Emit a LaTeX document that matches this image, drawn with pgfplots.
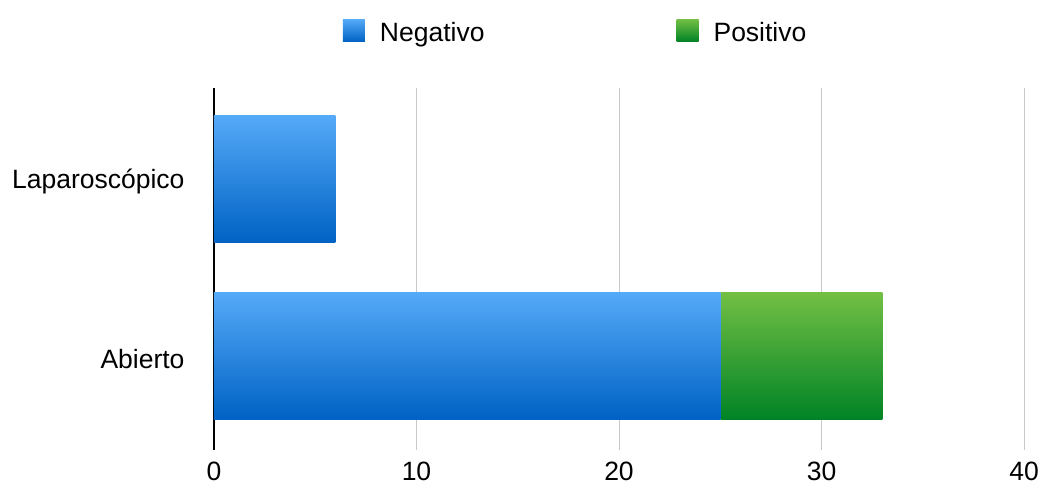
\documentclass[border=0pt]{standalone}
\usepackage{fontspec}
\setmainfont{Liberation Sans}
\usepackage{pgfplots}
\pgfplotsset{compat=1.18}
\usetikzlibrary{calc}
\definecolor{bluetop}{HTML}{55AAF8}
\definecolor{bluebot}{HTML}{0062C4}
\definecolor{greentop}{HTML}{72BF44}
\definecolor{greenbot}{HTML}{008326}
\definecolor{gridgray}{HTML}{C8C8C8}
\begin{document}
\begin{tikzpicture}
\begin{axis}[
  scale only axis, width=810bp, height=362bp,
  xbar stacked, bar width=127bp,
  xmin=0, xmax=40, ymin=-0.531, ymax=1.514,
  xtick={0,10,20,30,40},
  ytick={0,1}, yticklabels={Abierto, Laparoscópico},
  xmajorgrids, grid style={gridgray, line width=1bp},
  major tick length=0pt,
  axis line style={draw=none},
  extra x ticks={0}, extra x tick labels={},
  extra x tick style={grid style={black, line width=2bp}},
  font=\fontsize{26.5bp}{31bp}\selectfont,
  tick label style={font=\fontsize{26.5bp}{31bp}\selectfont},
  /pgf/number format/assume math mode=true,
  xticklabel style={yshift=-8bp},
  yticklabel style={xshift=-26bp, yshift=-3bp},
  legend columns=2,
  legend style={draw=none, fill=none, font=\fontsize{26.5bp}{31bp}\selectfont,
    at={(axis description cs:0.159,1.157)}, anchor=west, inner sep=0pt,
    nodes={inner sep=0pt},
    /tikz/every odd column/.append style={column sep=15bp},
    /tikz/every even column/.append style={column sep=192bp}},
]
% Abierto: Negativo
\addplot[draw=none, top color=bluetop, bottom color=bluebot,
  legend image code/.code={\shade[top color=bluetop,bottom color=bluebot] (0bp,-9bp) rectangle (22bp,13bp);}]
  coordinates {(25,0)};
% Abierto: Positivo (stacked on Negativo)
\addplot[draw=none, top color=greentop, bottom color=greenbot,
  legend image code/.code={\shade[top color=greentop,bottom color=greenbot] (0bp,-9bp) rectangle (22bp,13bp);}]
  coordinates {(8,0)};
% Laparoscópico: Negativo (Positivo = 0)
\addplot[draw=none, top color=bluetop, bottom color=bluebot, stack plots=false, forget plot]
  coordinates {(6,1)};
\legend{Negativo, Positivo}
\end{axis}
\pgfresetboundingbox
\useasboundingbox ($(current axis.south west)+(-214bp,-37bp)$) rectangle ($(current axis.north east)+(18bp,88bp)$);
\end{tikzpicture}
\end{document}
